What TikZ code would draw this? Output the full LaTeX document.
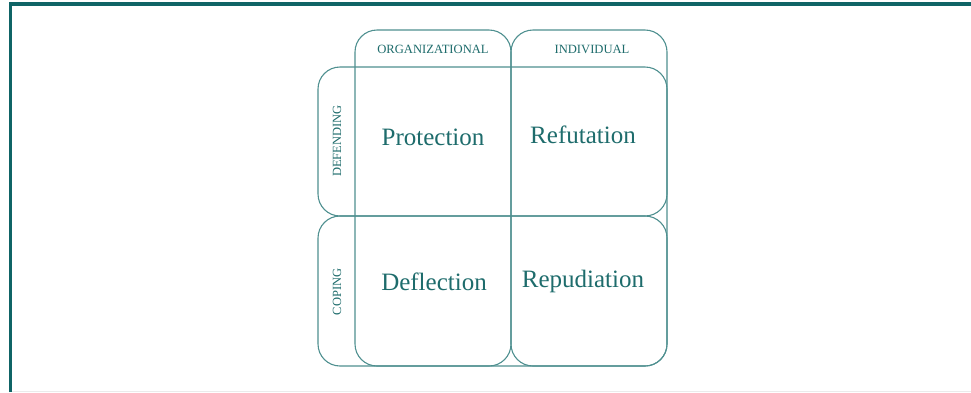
\documentclass[tikz,border=0pt]{standalone}
\usepackage{fontspec}
\setmainfont{Liberation Serif}
\usetikzlibrary{calc}
\definecolor{frameteal}{HTML}{0F6466}
\definecolor{boxteal}{HTML}{4F9090}
\definecolor{textteal}{HTML}{1E6C6C}
\tikzset{
	quadbox/.style={draw=boxteal, line width=1.1pt, rounded corners=22pt},
	bigword/.style={text=textteal, font=\fontsize{25}{25}\selectfont, inner sep=0pt},
	headword/.style={text=textteal, font=\fontsize{12.6}{12.6}\selectfont, inner sep=0pt},
	sideword/.style={text=textteal, font=\fontsize{12.5}{12.5}\selectfont, inner sep=0pt, rotate=90}
}

\begin{document}
\begin{tikzpicture}[x=1pt, y=-1pt]
		%%%%% START %%%%%
		
		\useasboundingbox (0, 0) rectangle (971, 392);
		\fill[white] (0, 0) rectangle (971, 392);
		
		% frame
		\draw[line width=3.5pt, color=frameteal] (10.5, 392) -- (10.5, 3.8) -- (971, 3.8);
		\draw[line width=0.8pt, color=black!8] (12, 391.5) -- (971, 391.5);
		
		% columns
		\draw[quadbox] (355, 30) rectangle (511, 366);
		\draw[quadbox] (511, 30) rectangle (667, 366);
		
		% rows
		\draw[quadbox] (318, 67) rectangle (667, 216);
		\draw[quadbox] (318, 216) rectangle (667, 366);
		
		% headings
		\node[headword] (org) at (433, 49) {ORGANIZATIONAL};
		\node[headword] (ind) at (592, 49) {INDIVIDUAL};
		\node[sideword] (def) at (337, 141) {DEFENDING};
		\node[sideword] (cop) at (337, 292) {COPING};
		
		% cells
		\node[bigword] (prot) at (433, 137) {Protection};
		\node[bigword] (refu) at (583, 135) {Refutation};
		\node[bigword] (defl) at (434, 282) {Deflection};
		\node[bigword] (repu) at (583, 281) {Repudiation};
		
		%%%%% END %%%%%
	\end{tikzpicture}
\end{document}
